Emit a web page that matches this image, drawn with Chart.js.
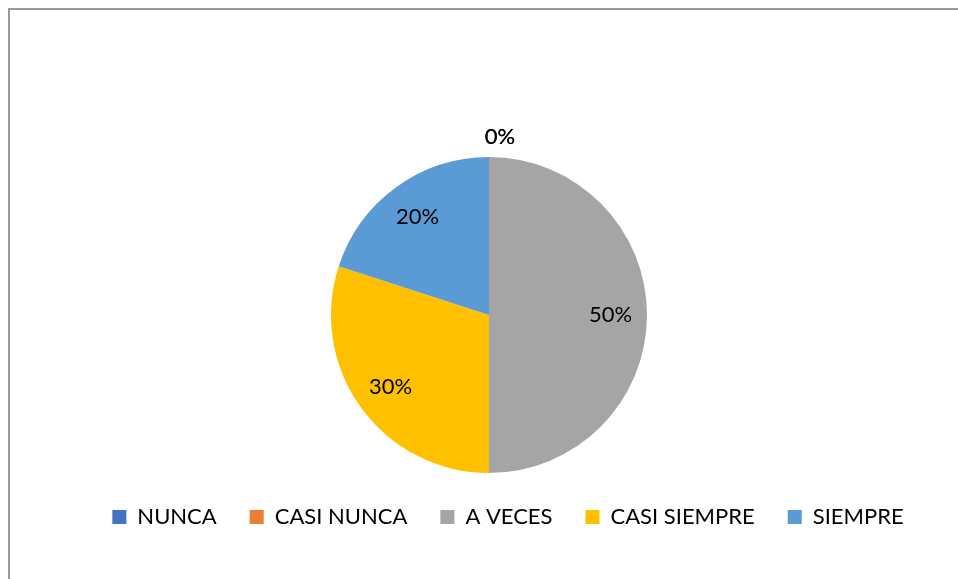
<!DOCTYPE html>
<html>
<head>
<meta charset="utf-8">
<script src="https://cdn.jsdelivr.net/npm/chart.js@4/dist/chart.umd.min.js"></script>
<style>
  html, body { margin: 0; padding: 0; background: #fff; }
  #wrap { position: relative; width: 958px; height: 579px; overflow: hidden; }
  #frame { position: absolute; left: 8px; top: 8px; width: 1000px; height: 700px;
           border-top: 2px solid #999; border-left: 2px solid #999; box-sizing: border-box; }
  canvas { position: absolute; left: 0; top: 0; }
</style>
</head>
<body>
<div id="wrap">
  <div id="frame"></div>
  <canvas id="pieChart" width="958" height="579"></canvas>
</div>
<script>
// data
const categories = ['NUNCA', 'CASI NUNCA', 'A VECES', 'CASI SIEMPRE', 'SIEMPRE'];
const shares = [0, 0, 0.5, 0.3, 0.2];
const colors = ['#4472C4', '#ED7D31', '#A5A5A5', '#FFC000', '#5B9BD5'];

const FONT = 'Lato, "Open Sans", sans-serif';

// percentage labels: inside at ~0.77 r, empty slices just outside the rim
const pctLabels = {
    id: 'pctLabels',
    afterDatasetsDraw(chart) {
        const ctx = chart.ctx;
        const meta = chart.getDatasetMeta(0);
        ctx.save();
        ctx.font = '22px ' + FONT;
        ctx.fillStyle = '#000';
        ctx.textAlign = 'center';
        ctx.textBaseline = 'middle';
        meta.data.forEach((arc, i) => {
            const mid = (arc.startAngle + arc.endAngle) / 2;
            const empty = shares[i] === 0;
            const r = arc.outerRadius * (empty ? 1.13 : 0.77);
            let x = arc.x + Math.cos(mid) * r;
            const y = arc.y + Math.sin(mid) * r;
            if (empty) x += 11;
            ctx.fillText(Math.round(shares[i] * 100) + '%', x, y);
        });
        ctx.restore();
    }
};

// the legend row sits a little right of the pie centre
const legendShift = {
    id: 'legendShift',
    afterLayout(chart) {
        chart.legend.left += 19;
        chart.legend.right += 19;
    }
};

const ctx = document.getElementById('pieChart').getContext('2d');
new Chart(ctx, {
    type: 'pie',
    data: {
        labels: categories,
        datasets: [{
            data: shares,
            backgroundColor: colors,
            borderWidth: 0
        }]
    },
    options: {
        responsive: false,
        animation: false,
        layout: { padding: { top: 157, bottom: 41, left: 20, right: 0 } },
        plugins: {
            tooltip: { enabled: false },
            legend: {
                position: 'bottom',
                labels: {
                    boxWidth: 14,
                    boxHeight: 14,
                    padding: 33,
                    color: '#000',
                    font: { family: FONT, size: 22 }
                }
            }
        }
    },
    plugins: [pctLabels, legendShift]
});
</script>
</body>
</html>
